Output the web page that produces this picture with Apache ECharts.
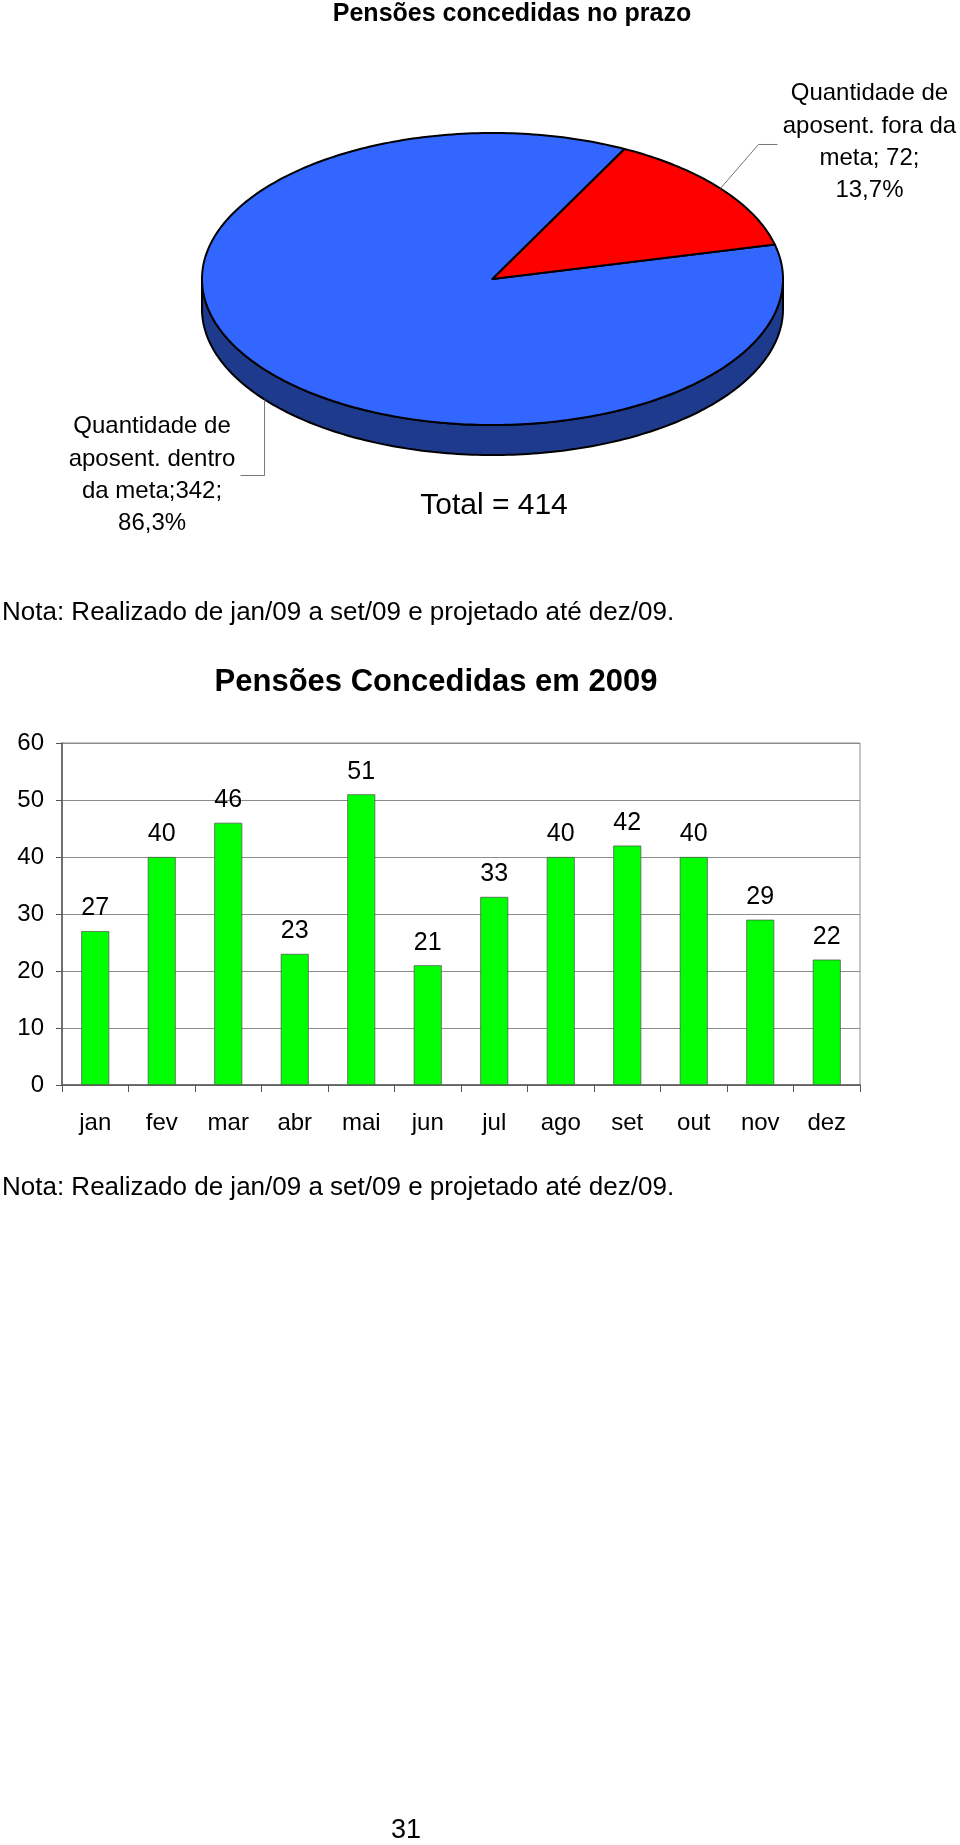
<!DOCTYPE html>
<html>
<head>
<meta charset="utf-8">
<script src="https://cdn.jsdelivr.net/npm/echarts@6/dist/echarts.min.js"></script>
<style>
html,body{margin:0;padding:0;background:#fff;}
#c{width:960px;height:1845px;}
</style>
</head>
<body>
<div id="c"></div>
<script>
// ---------- data ----------
const pieCategories = ['Quantidade de aposent. dentro da meta', 'Quantidade de aposent. fora da meta'];
const pieValues = [342, 72];
const pieShares = [86.3, 13.7];
const pieLabelLines = [
  ['Quantidade de', 'aposent. dentro', 'da meta;342;', '86,3%'],
  ['Quantidade de', 'aposent. fora da', 'meta; 72;', '13,7%']
];
const pieTotal = 414;
const months = ['jan', 'fev', 'mar', 'abr', 'mai', 'jun', 'jul', 'ago', 'set', 'out', 'nov', 'dez'];
const pensions = [27, 40, 46, 23, 51, 21, 33, 40, 42, 40, 29, 22];
const yTicks = [0, 10, 20, 30, 40, 50, 60];
const noteText = 'Nota: Realizado de jan/09 a set/09 e projetado até dez/09.';

// ---------- layout / style ----------
const FF = '"Liberation Sans", Arial, Helvetica, sans-serif';
const PIE = { cx: 492.5, cy: 279, rx: 290.5, ry: 146, depth: 30, start: 13.65 };
const topColors = ['#3366FF', '#FF0000'];
const sideColors = ['#1E3A8C', '#990000'];
// leader line + label placement relative to slice anchor
const labelLayout = [
  { onSide: true, path: [[0, 0], [0, 76], [-24, 76]], text: [-112.5, 75.5] },
  { onSide: false, path: [[0, 0], [38, -44], [57, -44]], text: [149, -46.5] }
];

function ell(t, dy) {
  const r = t * Math.PI / 180;
  return [PIE.cx + PIE.rx * Math.cos(r), PIE.cy - PIE.ry * Math.sin(r) + (dy || 0)];
}
function arcPts(a, b, dy) {
  const n = Math.max(2, Math.ceil(Math.abs(b - a) / 1.0));
  const pts = [];
  for (let i = 0; i <= n; i++) pts.push(ell(a + (b - a) * i / n, dy));
  return pts;
}

const chart = echarts.init(document.getElementById('c'), null, { renderer: 'canvas' });

function txt(x, y, text, font, align) {
  return { type: 'text', x: x, y: y, style: { text: text, font: font, fill: '#000', align: align, verticalAlign: 'middle', textAlign: align, textVerticalAlign: 'middle' } };
}

const option = {
  backgroundColor: '#ffffff',
  animation: false,
  graphic: [
    txt(512, 14, 'Pensões concedidas no prazo', 'bold 25px ' + FF, 'center'),
    txt(494, 506, 'Total = ' + pieTotal, '30px ' + FF, 'center'),
    txt(2, 613, noteText, '26px ' + FF, 'left'),
    txt(436, 682, 'Pensões Concedidas em 2009', 'bold 31px ' + FF, 'center'),
    txt(2, 1188, noteText, '26px ' + FF, 'left'),
    txt(406, 1831, '31', '27px ' + FF, 'center')
  ],
  grid: {
    left: 62, top: 743, right: 100, bottom: 760,
    show: true, borderColor: '#8c8c8c', borderWidth: 1, backgroundColor: 'transparent'
  },
  xAxis: {
    type: 'category',
    data: months,
    axisLine: { show: true, lineStyle: { color: '#555', width: 1.5 } },
    axisTick: { show: true, length: 7, lineStyle: { color: '#555' } },
    axisLabel: { fontSize: 24, fontFamily: FF, color: '#000', margin: 26 },
    splitLine: { show: false }
  },
  yAxis: {
    type: 'value',
    min: yTicks[0],
    max: yTicks[yTicks.length - 1],
    interval: yTicks[1] - yTicks[0],
    axisLine: { show: true, lineStyle: { color: '#555', width: 1.5 } },
    axisTick: { show: true, length: 6, lineStyle: { color: '#555' } },
    axisLabel: { fontSize: 24, fontFamily: FF, color: '#000', margin: 18 },
    splitLine: { show: true, lineStyle: { color: '#8c8c8c', width: 1 } }
  },
  series: [
    {
      type: 'bar',
      data: pensions,
      barWidth: '42%',
      itemStyle: { color: '#00FF00', borderColor: '#4d4d4d', borderWidth: 0.7 },
      label: { show: true, position: 'top', distance: 10, fontSize: 25, fontFamily: FF, color: '#000' }
    },
    {
      type: 'custom',
      coordinateSystem: 'none',
      data: pieShares.map((v, i) => ({ name: pieCategories[i], value: [v, pieValues[i]] })),
      renderItem: function (params, api) {
        const i = params.dataIndex;
        const total = pieShares.reduce((s, v) => s + v, 0);
        let before = 0;
        for (let k = 0; k < i; k++) before += pieShares[k];
        const share = api.value(0);
        const hi = PIE.start - before / total * 360;
        const lo = hi - share / total * 360;
        const children = [];
        // visible front side
        for (let k = -2; k <= 1; k++) {
          const f0 = 180 + 360 * k, f1 = 360 + 360 * k;
          const a = Math.max(lo, f0), b = Math.min(hi, f1);
          if (b > a) {
            const pts = arcPts(a, b, 0).concat(arcPts(b, a, PIE.depth));
            children.push({ type: 'polygon', shape: { points: pts }, style: { fill: sideColors[i], stroke: '#000', lineWidth: 2, lineJoin: 'round' } });
          }
        }
        // top face sector
        children.push({
          type: 'polygon',
          shape: { points: [[PIE.cx, PIE.cy]].concat(arcPts(lo, hi, 0)) },
          style: { fill: topColors[i], stroke: '#000', lineWidth: 2, lineJoin: 'round' }
        });
        // leader line + label
        const L = labelLayout[i];
        const mid = (lo + hi) / 2;
        const anc = ell(mid, L.onSide ? PIE.depth : 0);
        children.push({
          type: 'polyline',
          shape: { points: L.path.map(p => [anc[0] + p[0], anc[1] + p[1]]) },
          style: { stroke: '#777', lineWidth: 1, fill: null }
        });
        children.push({
          type: 'text',
          x: anc[0] + L.text[0],
          y: anc[1] + L.text[1],
          style: {
            text: pieLabelLines[i].join('\n'),
            font: '24px ' + FF,
            fill: '#000',
            lineHeight: 32.2,
            align: 'center', verticalAlign: 'middle',
            textAlign: 'center', textVerticalAlign: 'middle'
          }
        });
        return { type: 'group', children: children };
      }
    }
  ]
};
chart.setOption(option);
</script>
</body>
</html>
